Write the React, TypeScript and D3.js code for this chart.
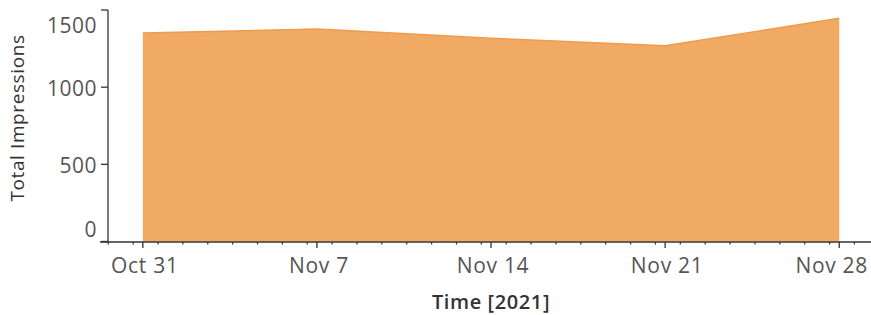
import React from "react";
import * as d3 from "d3";

const weeks: string[] = ["2021-10-31T09:20", "2021-11-07T09:20", "2021-11-14T09:20", "2021-11-21T09:20", "2021-11-28T09:20"];
const impressions: number[] = [1351, 1377, 1317, 1269, 1446];
const weekLabels: string[] = ["Oct 31", "Nov 7", "Nov 14", "Nov 21", "Nov 28"];
const yTicks: number[] = [0, 500, 1000, 1500];
const yTitle = "Total Impressions";
const xTitle = "Time [2021]";

const W = 871;
const H = 315;
const FONT = "'Open Sans', sans-serif";

export default function App() {
  const parse = (s: string) => new Date(s);
  const dates = weeks.map(parse);
  const x = d3
    .scaleTime()
    .domain([parse("2021-10-29T16:00"), parse("2021-11-29T16:00")])
    .range([100, 871]);
  const y = d3.scaleLinear().domain([0, 1500]).range([241.5, 10]);

  const data = dates.map((d, i) => ({ d, v: impressions[i] }));
  const area = d3
    .area<{ d: Date; v: number }>()
    .x((p) => x(p.d))
    .y0(y(0))
    .y1((p) => y(p.v));
  const line = d3
    .line<{ d: Date; v: number }>()
    .x((p) => x(p.d))
    .y((p) => y(p.v));

  const minor = d3.timeDay.range(x.domain()[0], x.domain()[1]);
  const axisY = 242;
  const yAxisX = 108;

  const labelShift = (v: number) => (v === 1500 ? 14.5 : v === 0 ? -13 : 1);

  return (
    <svg
      width={W}
      height={H}
      style={{ position: "absolute", left: 0, top: 0, background: "#fff" }}
      fontFamily={FONT}
    >
      <path d={area(data) || ""} fill="#f0aa64" />
      <path d={line(data) || ""} fill="none" stroke="#ee9c4c" strokeWidth={1.5} />
      {/* y axis */}
      <line x1={yAxisX} x2={yAxisX} y1={y(1500)} y2={axisY} stroke="#333" strokeWidth={1.3} />
      {yTicks.map((v) => (
        <g key={v}>
          <line x1={yAxisX - 7} x2={yAxisX} y1={y(v)} y2={y(v)} stroke="#333" strokeWidth={1.3} />
          <text
            x={97}
            y={y(v) + labelShift(v)}
            textAnchor="end"
            dominantBaseline="central"
            fontSize={21}
            letterSpacing={0.5}
            fill="#555"
          >
            {v}
          </text>
        </g>
      ))}
      {/* x axis */}
      <line x1={100} x2={871} y1={axisY} y2={axisY} stroke="#333" strokeWidth={1.3} />
      {minor.map((d, i) => (
        <line key={i} x1={x(d)} x2={x(d)} y1={axisY} y2={axisY + 2.5} stroke="#333" strokeWidth={1.2} />
      ))}
      {dates.map((d, i) => {
        const last = i === dates.length - 1;
        return (
          <g key={i}>
            <line x1={x(d)} x2={x(d)} y1={axisY} y2={axisY + 6} stroke="#333" strokeWidth={1.3} />
            <text
              x={last ? 868 : x(d) + 2}
              y={273}
              textAnchor={last ? "end" : "middle"}
              fontSize={21}
              letterSpacing={0.7}
              fill="#555"
            >
              {weekLabels[i]}
            </text>
          </g>
        );
      })}
      <text x={491} y={309} textAnchor="middle" fontSize={20} letterSpacing={0.6} fill="#333" fontWeight={600}>
        {xTitle}
      </text>
      <text
        transform={`translate(24,118) rotate(-90)`}
        textAnchor="middle"
        fontSize={19}
        letterSpacing={0.6}
        fill="#333"
      >
        {yTitle}
      </text>
    </svg>
  );
}
